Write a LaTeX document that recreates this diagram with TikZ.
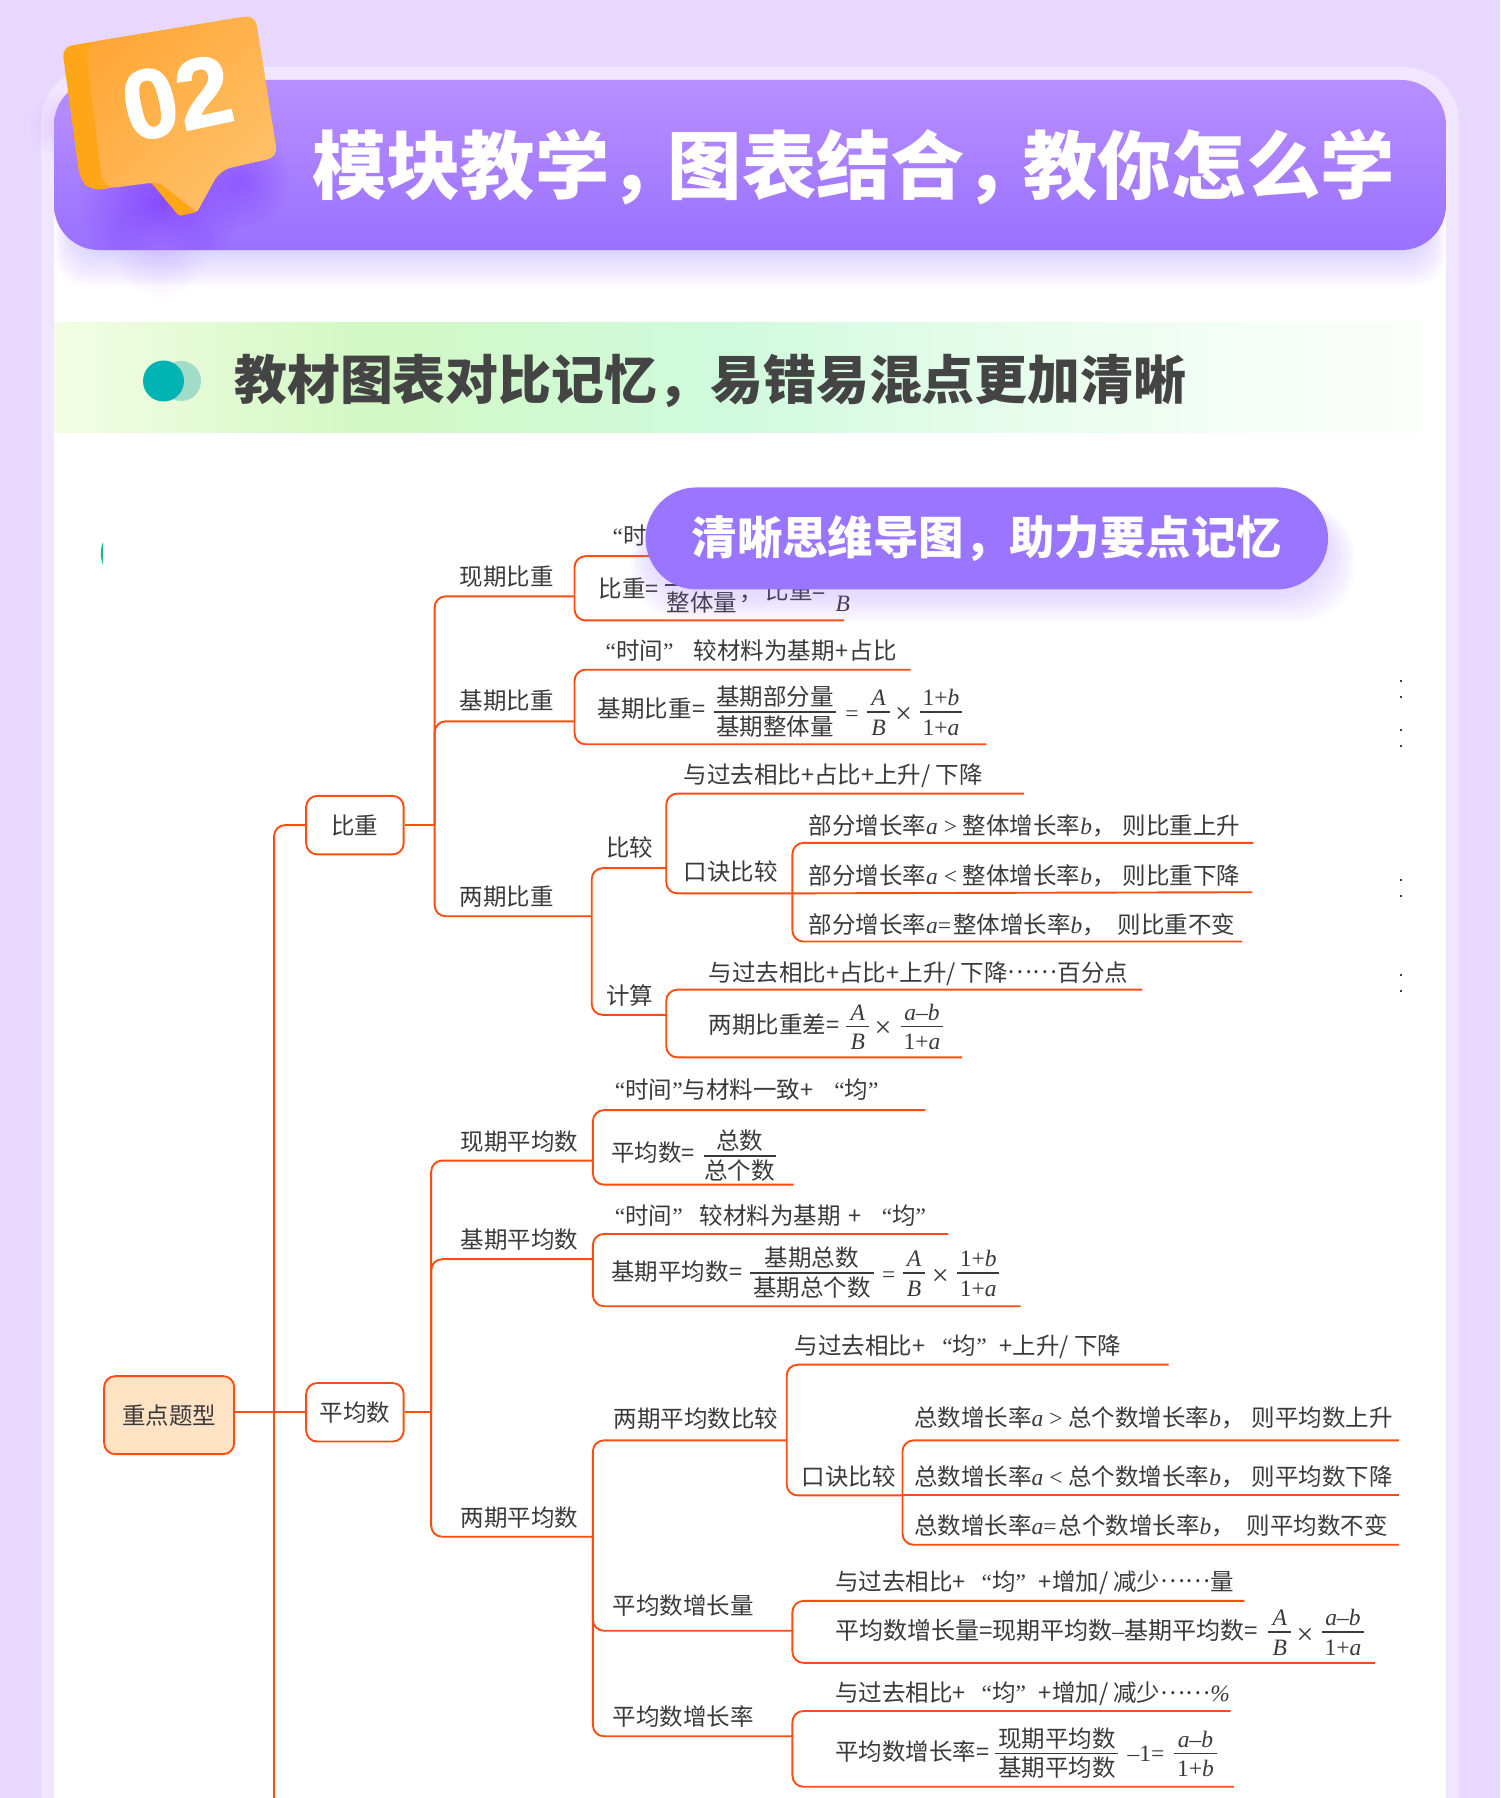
\documentclass[tikz,border=0pt]{standalone}
\usepackage{fontspec}
\usetikzlibrary{fadings}
\newfontfamily\cjk{Noto Sans CJK SC}
\newfontfamily\lat{Liberation Serif}
\newfontfamily\numf[FakeBold=1.5]{Liberation Sans Bold}
\definecolor{bgl}{HTML}{E8D8FF}
\definecolor{bandl}{HTML}{F1E6FF}
\definecolor{bant}{HTML}{B88FFF}
\definecolor{banb}{HTML}{9A70FF}
\definecolor{glowc}{HTML}{8040FF}
\definecolor{mapl}{HTML}{FF4D12}
\definecolor{rootf}{HTML}{FFE3C4}
\definecolor{txtc}{HTML}{3A3A3A}
\definecolor{headc}{HTML}{444444}
\definecolor{pillc}{HTML}{9A75FF}
\definecolor{bubs}{HTML}{FFA518}
\definecolor{bubl}{HTML}{FFA838}
\definecolor{bubh}{HTML}{FFC068}
\definecolor{dota}{HTML}{00B4B4}
\definecolor{dotb}{HTML}{A0DCC8}
\definecolor{arcc}{HTML}{10C080}
\definecolor{gba}{HTML}{FDFFEE}
\definecolor{gbb}{HTML}{D2F8C4}
\definecolor{gbc}{HTML}{D0FADC}
\definecolor{gbd}{HTML}{E0FCE8}
\definecolor{gbe}{HTML}{F6FEF8}
\pgfdeclarehorizontalshading{greenband}{100bp}{
 color(0bp)=(gba);
 color(21.5bp)=(gba);
 color(36.3bp)=(gbb);
 color(49.4bp)=(gbc);
 color(56.8bp)=(gbd);
 color(69.4bp)=(gbe);
 color(78.5bp)=(white);
 color(100bp)=(white)}
\tikzfading[name=softc, inner color=transparent!0, outer color=transparent!100]
\newcommand\va[1]{{\lat\itshape #1}}
\newcommand\vl[1]{{\lat #1}}
\newcommand\qL{\vl{“}}
\newcommand\qR{\vl{”}}
\newcommand\cdts{\raisebox{.33em}{……}}
\newcommand\tms{{\lat\fontsize{30}{30}\selectfont ×}}
% name, centre x, bar y, half width, numerator, denominator
\newcommand\frc[6]{%
 \node[mt,anchor=center] (#1n) at (#2,#3-13.5) {#5};
 \node[mt,anchor=center] (#1d) at (#2,#3+12.5) {#6};
 \coordinate (#1l) at (#2-#4,#3);
 \coordinate (#1r) at (#2+#4,#3);
 \draw[fb] (#1l) -- (#1r);}
\tikzset{
 mt/.style={font=\cjk\fontsize{23.5}{26}\selectfont,text=txtc,inner sep=0pt,anchor=west,text height=22pt,text depth=3.7pt},
 br/.style={draw=mapl,line width=1.9pt,rounded corners=11pt},
 fb/.style={draw=txtc,line width=1.6pt},
 bx/.style={draw=mapl,line width=1.9pt,rounded corners=11pt,fill=white,minimum width=97.5pt,minimum height=58.5pt,inner sep=0pt,font=\cjk\fontsize{23.5}{26}\selectfont,text=txtc},
 speck/.style={fill=black!75,inner sep=0pt,minimum size=2pt},
}
\begin{document}
\begin{tikzpicture}[x=1pt,y=-1pt]
\useasboundingbox (0,0) rectangle (1500,1798);
\fill[bgl] (0,0) rectangle (1500,1798);
% panel
\fill[bandl,rounded corners=55pt] (41,67) -- (1459,67) -- (1459,1900) -- (41,1900) -- cycle;
\fill[white] (54,130) rectangle (1446,1798);
% banner shadow
\foreach \g in {2,4,...,36}{\fill[banb,opacity=.016,rounded corners=30pt] (76-.6*\g,180) rectangle (1424+.6*\g,250+\g);}
% banner
\shade[top color=bant,bottom color=banb,rounded corners=45pt] (54,80) rectangle (1446,250);
% bubble glow
\fill[color=bant,opacity=.3,path fading=softc] (62,125) circle (34);
\begin{scope}
\clip[rounded corners=45pt] (54,80) rectangle (1446,250);
\fill[color=glowc,opacity=.8,path fading=softc] (160,205) circle (80);
\fill[color=glowc,opacity=.6,path fading=softc] (240,180) circle (50);
\end{scope}
\fill[color=bant,opacity=.3,path fading=softc] (160,250) circle (48);
% bubble
\fill[bubs] [rounded corners=12pt] (62,47) -- (255,15) -- (277.6,157) -- (220,170) [rounded corners=2pt] -- (197,212) -- (179,216) [rounded corners=6pt] -- (150,181) [rounded corners=10pt] -- (92,191) -- (80,180) -- cycle;
\shade[left color=bubl,right color=bubh,shading angle=45] [rounded corners=10pt] (85,43) -- (255,15) -- (277.6,157) -- (220,170) [rounded corners=1pt] -- (197,212) [rounded corners=6pt] -- (158,182) [rounded corners=14pt] -- (103,189) -- cycle;
\node[rotate=12,font=\numf\fontsize{98}{100}\selectfont,text=white,inner sep=0pt] (num) at (177,98) {02};
% title
\node[font=\cjk\bfseries\fontsize{74.3}{80}\selectfont,text=white,inner sep=0pt,anchor=west] (title) at (312,167) {模块教学，\hspace{-16pt}图表结合，\hspace{-16pt}教你怎么学};
% green band
\shade[shading=greenband] (54,322) rectangle (1420,432);
\fill[dotb] (181,381) circle (20);
\fill[dota] (163.5,381) circle (20.5);
\node[font=\cjk\bfseries\fontsize{52.9}{56}\selectfont,text=headc,inner sep=0pt,anchor=west] (sub) at (234,381) {教材图表对比记忆，易错易混点更加清晰};
% cut-off marks
\fill[arcc] (103,542) .. controls (100,550) and (100,556) .. (103,565) -- cycle;
\foreach \nm/\yy in {s1/681,s2/697,s3/730,s4/746,s5/880,s6/896,s7/975,s8/991}{\node[speck] (\nm) at (1401,\yy) {};}
%
\begin{scope}[x=1.14679pt,y=-1.14679pt]
% ---------- root and first level
\node[bx,fill=rootf,minimum width=130pt,minimum height=78pt] (root) at (147.5,1234) {重点题型};
\node[bx] (bz) at (309.5,719.5) {比重};
\node[bx] (avg) at (309.5,1231.5) {平均数};
\coordinate (j0) at (239,1231.5);
\coordinate (j0e) at (239,1575);
\draw[br] (j0 -| root.east) -- (j0);
\draw[br] (j0) |- (bz.west);
\draw[br] (j0) -- (avg.west);
\draw[br] (j0) -- (j0e);
% ---------- 比重 branch
\coordinate (jb) at (379,719.5);
\coordinate (jb1) at (501,520);
\coordinate (jb2) at (501,629);
\coordinate (jb3) at (516,799);
\draw[br] (bz.east) -- (jb);
\draw[br] (jb) |- (jb1);
\draw[br] (jb) |- (jb2);
\draw[br] (jb) |- (jb3);
\node[mt,anchor=center] (t1) at (442,503) {现期比重};
\node[mt,anchor=center] (t2) at (442,611) {基期比重};
\node[mt,anchor=center] (t3) at (442,782) {两期比重};
% 现期比重
\coordinate (e1a) at (700,485);
\coordinate (e1b) at (736,541);
\draw[br] (jb1) |- (e1a);
\draw[br] (jb1) |- (e1b);
\node[mt] (t1a) at (534,467) {\qL 时};
\node[mt] (t1b) at (522,513) {比重=};
\coordinate (f1l) at (580,510); \coordinate (f1r) at (643,510);
\draw[fb] (f1l) -- (f1r);
\node[mt,anchor=center] (t1c) at (612,525) {整体量};
\node[mt,anchor=center] (t1d) at (655,516) {，};
\node[mt,anchor=center] (t1e) at (694,515) {比重=};
\node[mt,anchor=center] (t1f) at (735,525) {\va{B}};
% 基期比重
\coordinate (e2a) at (794,584);
\coordinate (e2b) at (860,649);
\draw[br] (jb2) |- (e2a);
\draw[br] (jb2) |- (e2b);
\node[mt] (t2a) at (528,567) {\qL 时间\qR\hspace{20pt}较材料为基期\hspace{1pt}+\hspace{1pt}占比};
\node[mt] (t2b) at (521,618) {基期比重\hspace{1pt}=};
\frc{f2}{676}{621}{53}{基期部分量}{基期整体量}
\node[mt,anchor=center] (t2c) at (743,621) {\vl{=}};
\frc{f3}{766}{621}{10}{\va{A}}{\va{B}}
\node[mt,anchor=center] (t2d) at (788,623) {\tms};
\frc{f4}{820.5}{621}{18.5}{\vl{1+}\va{b}}{\vl{1+}\va{a}}
% 两期比重
\coordinate (jb31) at (581,757);
\coordinate (jb32) at (581,885);
\draw[br] (jb3) |- (jb31);
\draw[br] (jb3) |- (jb32);
\node[mt,anchor=center] (t3a) at (549,739) {比较};
\node[mt,anchor=center] (t3b) at (549,868) {计算};
\coordinate (e3a) at (893,692);
\coordinate (jb33) at (691,779);
\draw[br] (jb31) |- (e3a);
\draw[br] (jb31) |- (jb33);
\node[mt] (t3c) at (596,675) {与过去相比+占比+上升/ 下降};
\node[mt,anchor=center] (t3d) at (637,760) {口诀比较};
\coordinate (e3b) at (1093,735);
\coordinate (e3c) at (1092,778);
\coordinate (e3d) at (1083,821);
\draw[br] (jb33) |- (e3b);
\draw[br] (jb33) -- (e3c);
\draw[br] (jb33) |- (e3d);
\node[mt] (t3e) at (705,720) {部分增长率\va{a}\vl{ > }整体增长率\va{b}，\hspace{7pt}则比重上升};
\node[mt] (t3f) at (705,763) {部分增长率\va{a}\vl{ < }整体增长率\va{b}，\hspace{7pt}则比重下降};
\node[mt] (t3g) at (705,806) {部分增长率\va{a}\vl{=}\hspace{2pt}整体增长率\va{b}，\hspace{12pt}则比重不变};
\coordinate (e3e) at (996,863);
\coordinate (e3f) at (839,922);
\draw[br] (jb32) |- (e3e);
\draw[br] (jb32) |- (e3f);
\node[mt] (t3h) at (618,848) {与过去相比+占比+上升/ 下降\cdts 百分点};
\node[mt] (t3i) at (618,893) {两期比重差=};
\frc{f5}{748}{895}{10}{\va{A}}{\va{B}}
\node[mt,anchor=center] (t3j) at (770,897) {\tms};
\frc{f6}{804}{895}{18.5}{\va{a}\vl{–}\va{b}}{\vl{1+}\va{a}}
% ---------- 平均数 branch
\coordinate (ja) at (376,1231.5);
\coordinate (ja1) at (517,1012);
\coordinate (ja2) at (517,1098);
\coordinate (ja3) at (517,1340);
\draw[br] (avg.east) -- (ja);
\draw[br] (ja) |- (ja1);
\draw[br] (ja) |- (ja2);
\draw[br] (ja) |- (ja3);
\node[mt,anchor=center] (a1) at (453,995) {现期平均数};
\node[mt,anchor=center] (a2) at (453,1081) {基期平均数};
\node[mt,anchor=center] (a3) at (453,1323) {两期平均数};
% 现期平均数
\coordinate (g1a) at (807,968);
\coordinate (g1b) at (692,1033);
\draw[br] (ja1) |- (g1a);
\draw[br] (ja1) |- (g1b);
\node[mt] (a1a) at (536,950) {\qL 时间\qR 与材料一致+\hspace{21pt}\qL 均\qR};
\node[mt] (a1b) at (533,1005) {平均数=};
\frc{f7}{645}{1008}{31.5}{总数}{总个数}
% 基期平均数
\coordinate (g2a) at (827,1076);
\coordinate (g2b) at (890,1139);
\draw[br] (ja2) |- (g2a);
\draw[br] (ja2) |- (g2b);
\node[mt] (a2a) at (536,1060) {\qL 时间\qR\hspace{17pt}较材料为基期\hspace{8pt}+\hspace{20pt}\qL 均\qR};
\node[mt] (a2b) at (533,1109) {基期平均数\hspace{1pt}=};
\frc{f8}{708}{1110}{54}{基期总数}{基期总个数}
\node[mt,anchor=center] (a2c) at (775,1110) {\vl{=}};
\frc{f9}{797}{1110}{10}{\va{A}}{\va{B}}
\node[mt,anchor=center] (a2d) at (820,1113) {\tms};
\frc{f10}{853}{1110}{18.5}{\vl{1+}\va{b}}{\vl{1+}\va{a}}
% 两期平均数
\coordinate (ja31) at (686,1256);
\coordinate (ja32) at (691,1422);
\coordinate (ja33) at (691,1514);
\draw[br] (ja3) |- (ja31);
\draw[br] (ja3) |- (ja32);
\draw[br] (ja3) |- (ja33);
\node[mt,anchor=center] (a3a) at (607,1237) {两期平均数比较};
\node[mt,anchor=center] (a3b) at (596,1400) {平均数增长量};
\node[mt,anchor=center] (a3c) at (596,1497) {平均数增长率};
\coordinate (g3a) at (1019,1190);
\coordinate (ja34) at (787,1304);
\draw[br] (ja31) |- (g3a);
\draw[br] (ja31) |- (ja34);
\node[mt] (a3d) at (693,1173) {与过去相比+\hspace{17pt}\qL 均\qR\hspace{13pt}+上升/ 下降};
\node[mt,anchor=center] (a3e) at (740,1287) {口诀比较};
\coordinate (g3b) at (1220,1256);
\coordinate (g3c) at (1220,1304);
\coordinate (g3d) at (1220,1347);
\draw[br] (ja34) |- (g3b);
\draw[br] (ja34) -- (g3c);
\draw[br] (ja34) |- (g3d);
\node[mt] (a3f) at (797,1236) {总数增长率\va{a}\vl{ > }总个数增长率\va{b}，\hspace{7pt}则平均数上升};
\node[mt] (a3g) at (797,1287) {总数增长率\va{a}\vl{ < }总个数增长率\va{b}，\hspace{7pt}则平均数下降};
\node[mt] (a3h) at (797,1330) {总数增长率\va{a}\vl{=}\hspace{2pt}总个数增长率\va{b}，\hspace{12pt}则平均数不变};
\coordinate (g3e) at (1085,1396);
\coordinate (g3f) at (1199,1450);
\draw[br] (ja32) |- (g3e);
\draw[br] (ja32) |- (g3f);
\node[mt] (a3i) at (728,1379) {与过去相比+\hspace{16pt}\qL 均\qR\hspace{13pt}+增加/ 减少\cdts 量};
\node[mt,font=\cjk\fontsize{24}{26}\selectfont] (a3j) at (728,1422) {平均数增长量=现期平均数\vl{–}基期平均数=};
\frc{f11}{1116}{1423}{10}{\va{A}}{\va{B}}
\node[mt,anchor=center] (a3k) at (1138,1426) {\tms};
\frc{f12}{1171}{1423}{18.5}{\va{a}\vl{–}\va{b}}{\vl{1+}\va{a}}
\coordinate (g3g) at (1073,1492);
\coordinate (g3h) at (1076,1558);
\draw[br] (ja33) |- (g3g);
\draw[br] (ja33) |- (g3h);
\node[mt] (a3l) at (728,1476) {与过去相比+\hspace{16pt}\qL 均\qR\hspace{13pt}+增加/ 减少\cdts\vl{\itshape\%}};
\node[mt] (a3m) at (728,1527) {平均数增长率=};
\frc{f13}{921.5}{1529}{53.5}{现期平均数}{基期平均数}
\node[mt] (a3n) at (983,1528) {\vl{–1=}};
\frc{f14}{1042.5}{1529}{18.5}{\va{a}\vl{–}\va{b}}{\vl{1+}\va{b}}
% ---------- pill
\foreach \g in {24,21,...,3}{\fill[pillc,opacity=.03,rounded corners=55pt] (567-.7*\g,440) rectangle (1158+\g,514+\g+4);}
\node[fill=pillc,rounded corners=51pt,minimum width=682.5pt,minimum height=102pt,inner sep=0pt,font=\cjk\bfseries\fontsize{45.4}{50}\selectfont,text=white] (pill) at (860.5,469.5) {清晰思维导图，助力要点记忆};
\end{scope}
\end{tikzpicture}
\end{document}
